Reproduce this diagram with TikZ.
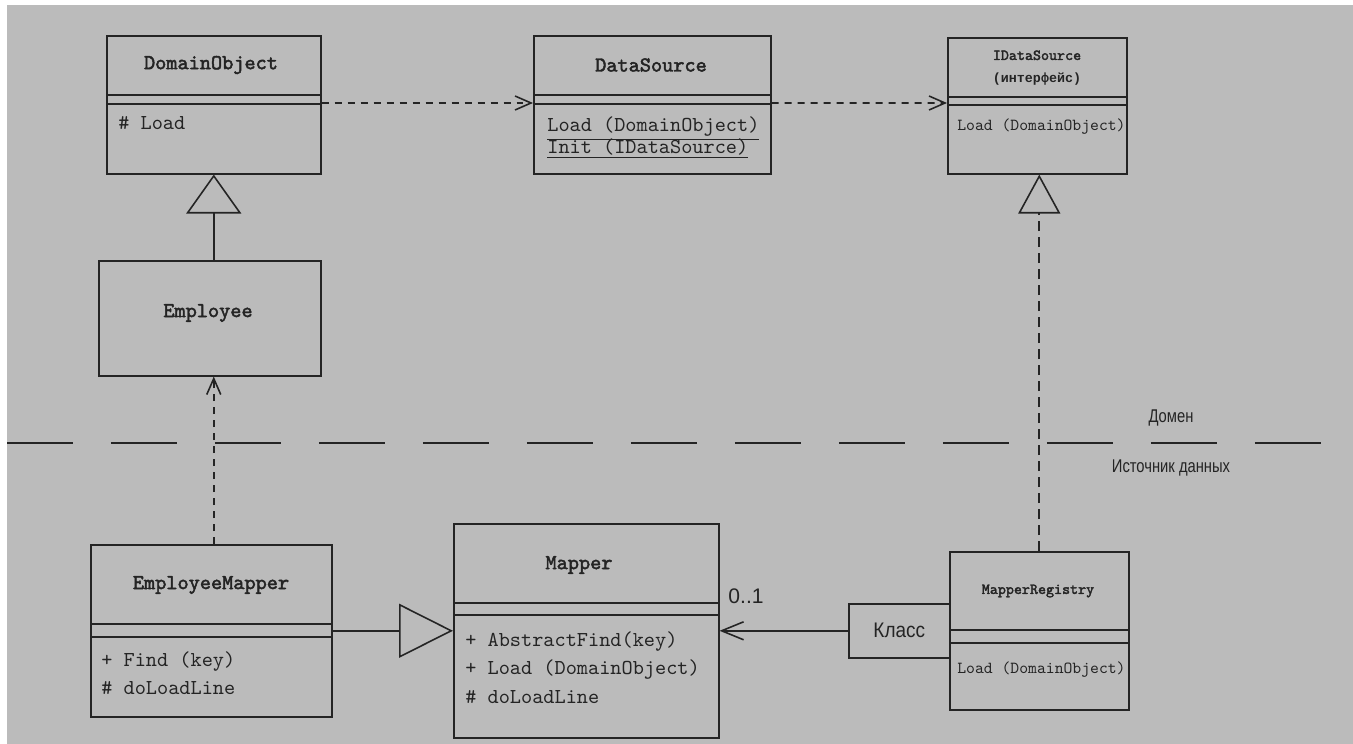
\documentclass[tikz,border=0pt]{standalone}
\usepackage{fontspec}
\setmonofont{lmmono10-regular}[Extension=.otf, BoldFont=lmmono10-regular, BoldFeatures={FakeBold=2.2}]
\setsansfont{Liberation Sans}
\newfontfamily\cyrmono{Liberation Mono}
\newfontfamily\lblfont[FakeStretch=0.8]{Liberation Sans}
\newfontfamily\klsfont[FakeStretch=0.9]{Liberation Sans}
\usetikzlibrary{arrows.meta,calc}
\definecolor{paper}{RGB}{187,187,187}
\definecolor{ink}{RGB}{36,36,36}

\begin{document}
\begin{tikzpicture}[x=0.02cm, y=-0.02cm,
  cls/.style={draw=ink, line width=0.9pt, anchor=north west, inner sep=0pt},
  compline/.style={draw=ink, line width=0.9pt},
  ttl/.style={font=\fontsize{12.1}{14}\selectfont\ttfamily\bfseries, text=ink, inner sep=0pt},
  ttls/.style={font=\fontsize{8.7}{13}\selectfont\ttfamily\bfseries, text=ink, inner sep=0pt, align=center},
  mem/.style={font=\fontsize{12.1}{14}\selectfont\ttfamily, text=ink, anchor=west, inner sep=0pt,
              text height=1.6ex, text depth=0.4ex},
  mems/.style={mem, font=\fontsize{9.6}{12}\selectfont\ttfamily},
  dep/.style={draw=ink, line width=0.9pt, dash pattern=on 0.14cm off 0.12cm,
              -{Straight Barb[length=3.2mm, width=2.8mm]}},
  gen/.style 2 args={draw=ink, line width=0.9pt, -{Triangle[open, length=#1, width=#2]}},
  real/.style 2 args={gen={#1}{#2}, dash pattern=on 0.2cm off 0.12cm},
  assoc/.style={draw=ink, line width=0.9pt, -{Straight Barb[length=4.4mm, width=3.6mm]}},
  sepline/.style={draw=ink, line width=1.1pt, dash pattern=on 1.32cm off 0.76cm},
  lbl/.style={font=\fontsize{10.5}{12}\selectfont\lblfont, text=ink, inner sep=0pt}
]
% scanned page
\fill[white] (0,0) rectangle (1353,744);
\fill[paper] (7,5) rectangle (1353,744);
\useasboundingbox (0,0) rectangle (1353,744);

% Domain layer
\node[cls, minimum width=4.28cm, minimum height=2.76cm] (dobj) at (106,35) {};
\draw[compline] ([yshift=-1.2cm]dobj.north west) -- ([yshift=-1.2cm]dobj.north east);
\draw[compline] ([yshift=-1.38cm]dobj.north west) -- ([yshift=-1.38cm]dobj.north east);
\node[ttl] (dobj-t) at (211,65) {DomainObject};
\node[mem] (dobj-m1) at (118,125) {\# Load};

\node[cls, minimum width=4.74cm, minimum height=2.76cm] (dsrc) at (533,35) {};
\draw[compline] ([yshift=-1.2cm]dsrc.north west) -- ([yshift=-1.2cm]dsrc.north east);
\draw[compline] ([yshift=-1.38cm]dsrc.north west) -- ([yshift=-1.38cm]dsrc.north east);
\node[ttl] (dsrc-t) at (651,65) {DataSource};
\node[mem] (dsrc-m1) at (547,127) {\underline{Load (DomainObject)}};
\node[mem] (dsrc-m2) at (547,149) {\underline{Init (IDataSource)}};

\node[cls, minimum width=3.58cm, minimum height=2.72cm] (ids) at (947,37) {};
\draw[compline] ([yshift=-1.2cm]ids.north west) -- ([yshift=-1.2cm]ids.north east);
\draw[compline] ([yshift=-1.36cm]ids.north west) -- ([yshift=-1.36cm]ids.north east);
\node[ttls] (ids-t) at (1037,68) {IDataSource\\{\cyrmono\fontsize{7.6}{13}\selectfont(интерфейс)}};
\node[mems] (ids-m1) at (957,126) {Load (DomainObject)};

\node[cls, minimum width=4.44cm, minimum height=2.3cm] (emp) at (98,260) {};
\node[ttl] (emp-t) at (208,313) {Employee};

% layer border
\coordinate (sep-l) at (7,443);
\coordinate (sep-r) at (1353,443);
\draw[sepline] (sep-l) -- (sep-r);
\node[lbl] (dom) at (1171,418) {Домен};
\node[lbl] (src) at (1171,468) {Источник данных};

% Data source layer
\node[cls, minimum width=4.82cm, minimum height=3.44cm] (empm) at (90,544) {};
\draw[compline] ([yshift=-1.6cm]empm.north west) -- ([yshift=-1.6cm]empm.north east);
\draw[compline] ([yshift=-1.86cm]empm.north west) -- ([yshift=-1.86cm]empm.north east);
\node[ttl] (empm-t) at (211,585) {EmployeeMapper};
\node[mem] (empm-m1) at (101,662) {+ Find (key)};
\node[mem] (empm-m2) at (101,690) {\# doLoadLine};

\node[cls, minimum width=5.3cm, minimum height=4.28cm] (mapper) at (453,523) {};
\draw[compline] ([yshift=-1.6cm]mapper.north west) -- ([yshift=-1.6cm]mapper.north east);
\draw[compline] ([yshift=-1.84cm]mapper.north west) -- ([yshift=-1.84cm]mapper.north east);
\node[ttl] (mapper-t) at (579,565) {Mapper};
\node[mem] (mapper-m1) at (465,642) {+ AbstractFind(key)};
\node[mem] (mapper-m2) at (465,670) {+ Load (DomainObject)};
\node[mem] (mapper-m3) at (465,699) {\# doLoadLine};

\node[cls, minimum width=2.02cm, minimum height=1.08cm,
      font=\fontsize{12}{14}\selectfont\klsfont, text=ink] (klass) at (848,603) {Класс};
\node[cls, minimum width=3.58cm, minimum height=3.16cm] (mreg) at (949,551) {};
\draw[compline] ([yshift=-1.58cm]mreg.north west) -- ([yshift=-1.58cm]mreg.north east);
\draw[compline] ([yshift=-1.84cm]mreg.north west) -- ([yshift=-1.84cm]mreg.north east);
\node[ttls] (mreg-t) at (1038,591) {MapperRegistry};
\node[mems] (mreg-m1) at (957,669) {Load (DomainObject)};

% connectors
\draw[dep] ([yshift=-1.36cm]dobj.north east) -- ([yshift=-1.36cm]dsrc.north west);
\draw[dep] ([yshift=-1.36cm]dsrc.north east) -- ([yshift=-1.32cm]ids.north west);
\draw[gen={7.8mm}{11mm}] (dobj.south |- emp.north) -- (dobj.south);
\draw[dep] ([xshift=0.05cm]empm.north) -- ([xshift=0.05cm]empm.north |- emp.south);
\draw[gen={10.8mm}{10.8mm}] (empm.east) -- (empm.east -| mapper.west);
\draw[real={7.8mm}{8.4mm}] (mreg.north) -- (mreg.north |- ids.south);
\draw[assoc] (klass.west) -- (klass.west -| mapper.east);
\node[font=\fontsize{12}{14}\selectfont\sffamily, text=ink, inner sep=0pt] (mult) at (746,596) {0..1};
\end{tikzpicture}
\end{document}
